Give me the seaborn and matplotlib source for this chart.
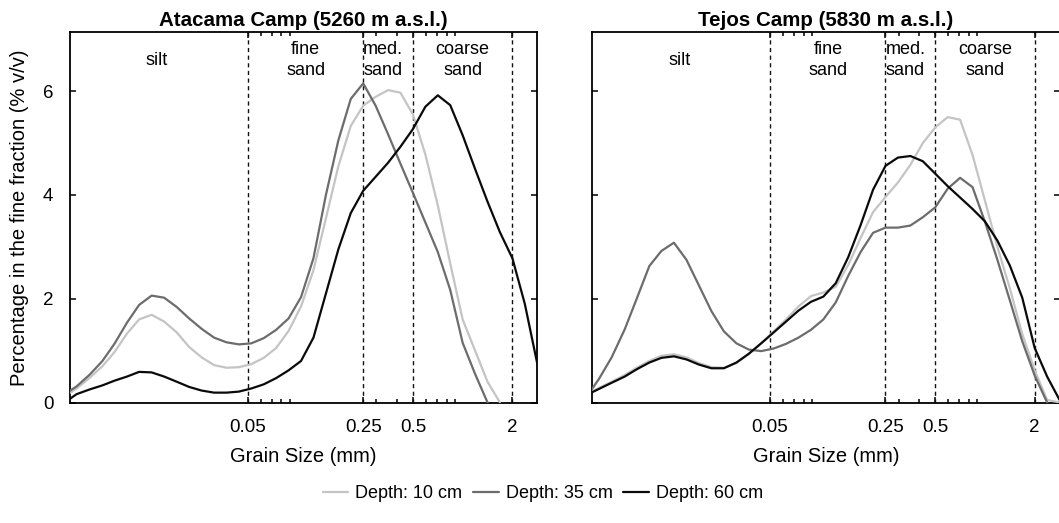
import numpy as np
import pandas as pd
import matplotlib
matplotlib.use("Agg")
import matplotlib.pyplot as plt
import seaborn as sns
from matplotlib.ticker import FixedLocator, NullFormatter

nan = np.nan

# --- Datos: clases de tamaño (mm, cuarto de phi) ---
grain_size = [0.0039, 0.0046, 0.0055, 0.0066, 0.0078, 0.0093, 0.0110, 0.0131,
              0.0156, 0.0186, 0.0221, 0.0263, 0.0313, 0.0372, 0.0442, 0.0526,
              0.0625, 0.0743, 0.0884, 0.1051, 0.125, 0.1487, 0.1768, 0.2102,
              0.25, 0.2973, 0.3536, 0.4204, 0.5, 0.5946, 0.7071, 0.8409,
              1.0, 1.1892, 1.4142, 1.6818, 2.0, 2.3784, 2.8284]

# Atacama Camp
atacama_10 = [0.12, 0.27, 0.47, 0.70, 0.97, 1.33, 1.60, 1.69, 1.56, 1.35, 1.07, 0.87,
              0.72, 0.67, 0.68, 0.74, 0.86, 1.05, 1.38, 1.85, 2.55, 3.55, 4.55, 5.33,
              5.72, 5.89, 6.02, 5.97, 5.55, 4.78, 3.80, 2.68, 1.60, 1.00, 0.40, 0.0,
              nan, nan, nan]
atacama_35 = [0.16, 0.31, 0.53, 0.80, 1.13, 1.54, 1.88, 2.06, 2.02, 1.84, 1.62, 1.42,
              1.25, 1.16, 1.12, 1.14, 1.24, 1.40, 1.62, 2.03, 2.78, 4.00, 5.05, 5.85,
              6.15, 5.72, 5.17, 4.60, 4.04, 3.47, 2.90, 2.17, 1.15, 0.55, 0.0, nan,
              nan, nan, nan]
atacama_60 = [0.0, 0.16, 0.25, 0.33, 0.42, 0.50, 0.59, 0.58, 0.50, 0.40, 0.30, 0.23,
              0.19, 0.19, 0.21, 0.27, 0.35, 0.47, 0.62, 0.80, 1.25, 2.10, 2.95, 3.65,
              4.08, 4.35, 4.62, 4.93, 5.27, 5.70, 5.92, 5.73, 5.15, 4.50, 3.87, 3.28,
              2.78, 1.90, 0.75]

# Tejos Camp
tejos_10 = [0.16, 0.28, 0.40, 0.53, 0.67, 0.80, 0.90, 0.93, 0.87, 0.76, 0.68, 0.67,
            0.76, 0.93, 1.14, 1.37, 1.60, 1.85, 2.05, 2.12, 2.23, 2.65, 3.17, 3.67,
            3.96, 4.24, 4.58, 5.00, 5.30, 5.50, 5.45, 4.77, 3.89, 3.00, 2.20, 1.32,
            0.62, 0.05, 0.0]
tejos_35 = [0.12, 0.45, 0.87, 1.41, 2.00, 2.63, 2.92, 3.08, 2.75, 2.25, 1.76, 1.37,
            1.14, 1.02, 0.99, 1.04, 1.13, 1.25, 1.40, 1.60, 1.93, 2.44, 2.90, 3.27,
            3.37, 3.37, 3.41, 3.57, 3.76, 4.12, 4.33, 4.15, 3.48, 2.75, 1.97, 1.18,
            0.52, 0.0, nan]
tejos_60 = [0.15, 0.26, 0.38, 0.50, 0.64, 0.77, 0.86, 0.89, 0.83, 0.73, 0.66, 0.66,
            0.77, 0.94, 1.14, 1.35, 1.56, 1.77, 1.94, 2.04, 2.30, 2.80, 3.42, 4.10,
            4.56, 4.72, 4.75, 4.65, 4.41, 4.17, 3.95, 3.73, 3.49, 3.12, 2.64, 2.02,
            1.05, 0.50, 0.05]

depths = ["Depth: 10 cm", "Depth: 35 cm", "Depth: 60 cm"]
colores = {"Depth: 10 cm": "#c4c4c4", "Depth: 35 cm": "#6c6c6c", "Depth: 60 cm": "#0a0a0a"}

sitios = {
    "Atacama Camp (5260 m a.s.l.)": [atacama_10, atacama_35, atacama_60],
    "Tejos Camp (5830 m a.s.l.)": [tejos_10, tejos_35, tejos_60],
}

limites = [0.05, 0.25, 0.5, 2]
clases = [("silt", 0.0141), ("fine\nsand", 0.112), ("med.\nsand", 0.33), ("coarse\nsand", 1.0)]

# --- Estilo ---
sns.set_style("ticks")
plt.rcParams["font.family"] = ["Liberation Sans", "DejaVu Sans"]
plt.rcParams["axes.linewidth"] = 1.3
for clave in ["text.color", "axes.labelcolor", "xtick.color", "ytick.color", "axes.edgecolor"]:
    plt.rcParams[clave] = "black"

fig = plt.figure(figsize=(10.59, 5.23), dpi=100)
W, H = 1059, 523
bottom = (H - 402.5) / H
height = 370.5 / H
ax1 = fig.add_axes([70 / W, bottom, 467.3 / W, height])
ax2 = fig.add_axes([592.3 / W, bottom, 467.3 / W, height])

for i, (ax, (titulo, series)) in enumerate(zip([ax1, ax2], sitios.items())):
    filas = []
    for depth, valores in zip(depths, series):
        for x, y in zip(grain_size, valores):
            filas.append({"size": x, "pct": y, "depth": depth})
    df = pd.DataFrame(filas).dropna()

    for lim in limites:
        ax.axvline(lim, color="#111111", ls=(0, (3, 2.5)), lw=1.0, zorder=1)

    sns.lineplot(data=df, x="size", y="pct", hue="depth", hue_order=depths,
                 palette=colores, estimator=None, linewidth=1.6, ax=ax,
                 legend=(i == 0), zorder=3)

    ax.set_xscale("log")
    ax.set_xlim(0.0042, 2.83)
    ax.set_ylim(0, 7.14)
    ax.set_xticks(limites)
    ax.set_xticklabels(["0.05", "0.25", "0.5", "2"])
    ax.xaxis.set_minor_locator(FixedLocator([0.06, 0.07, 0.08, 0.09, 0.3, 0.4,
                                             0.6, 0.7, 0.8, 0.9]))
    ax.xaxis.set_minor_formatter(NullFormatter())
    ax.set_yticks([0, 2, 4, 6])
    ax.tick_params(which="both", direction="in", top=True, right=True,
                   labelsize=13.5, width=1.1, pad=12)
    ax.tick_params(which="major", length=4.5)
    ax.tick_params(which="minor", length=3)
    ax.set_title(titulo, fontsize=14.8, fontweight="bold", pad=4)
    ax.set_xlabel("Grain Size (mm)", fontsize=14.5, labelpad=8)

    for texto, xpos in clases:
        ax.text(xpos, 6.6, texto, ha="center", va="center", fontsize=13,
                linespacing=1.25)

    if i == 0:
        ax.set_ylabel("Percentage in the fine fraction (% v/v)", fontsize=14.5,
                      labelpad=10)
    else:
        ax.set_ylabel("")
        ax.set_yticklabels([])

# --- Leyenda ---
leg = ax1.get_legend()
handles = leg.legend_handles
labels = [t.get_text() for t in leg.get_texts()]
leg.remove()
fig.legend(handles, labels, loc="center", bbox_to_anchor=(543 / W, 1 - 494 / H),
           ncol=3, frameon=False, fontsize=13, handlelength=1.4,
           handletextpad=0.4, columnspacing=0.6)

plt.savefig("out.png", dpi=100)
